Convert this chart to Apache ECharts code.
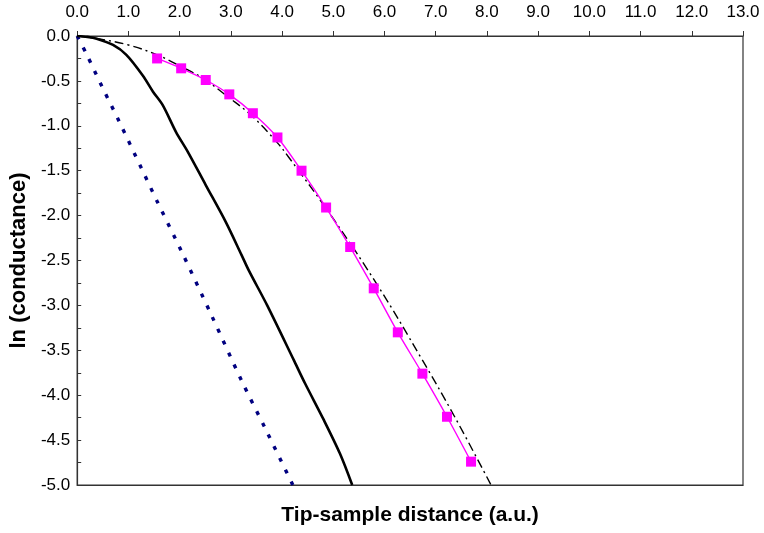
<!DOCTYPE html>
<html>
<head>
<meta charset="utf-8">
<script src="https://cdn.jsdelivr.net/npm/echarts@6/dist/echarts.min.js"></script>
<style>html,body{margin:0;padding:0;background:#fff;}#chart{width:764px;height:533px;}</style>
</head>
<body>
<div id="chart"></div>
<script>
// Blue dotted curve
const blueX = [0, 0.18, 0.49, 0.81, 1.26, 1.56, 2.03, 2.63, 3.22, 3.68, 4.21];
const blueY = [0, -0.20, -0.57, -0.94, -1.48, -1.84, -2.39, -3.12, -3.85, -4.38, -5.0];
// Black solid curve
const blackX = [0, 0.2, 0.38, 0.7, 0.96, 1.28, 1.48, 1.67, 1.93, 2.16, 2.51, 2.9, 3.21, 3.35, 3.71, 4.23, 4.45, 4.81, 5.13, 5.37];
const blackY = [0, -0.01, -0.03, -0.10, -0.21, -0.44, -0.62, -0.77, -1.07, -1.29, -1.66, -2.07, -2.44, -2.61, -3.0, -3.61, -3.87, -4.27, -4.65, -5.0];
// Black dash-dot curve
const ddX = [0, 0.4, 1.0, 1.56, 2.03, 2.45, 2.95, 3.43, 3.91, 4.13, 4.97, 5.88, 6.72, 7.37, 8.08];
const ddY = [0, -0.03, -0.10, -0.21, -0.34, -0.47, -0.68, -0.90, -1.19, -1.35, -2.01, -2.79, -3.59, -4.24, -5.0];
// Magenta squares
const magX = [1.56, 2.03, 2.51, 2.97, 3.43, 3.91, 4.38, 4.86, 5.33, 5.79, 6.26, 6.74, 7.22, 7.69];
const magY = [-0.25, -0.36, -0.49, -0.65, -0.86, -1.13, -1.50, -1.91, -2.35, -2.81, -3.30, -3.76, -4.24, -4.74];

const xTitle = 'Tip-sample distance (a.u.)';
const yTitle = 'ln (conductance)';

const zip = (xs, ys) => xs.map((x, i) => [x, ys[i]]);
const font = 'Liberation Sans, Arial, sans-serif';

const chart = echarts.init(document.getElementById('chart'), null, {renderer: 'canvas'});
chart.setOption({
  animation: false,
  backgroundColor: '#fff',
  grid: {left: 74, right: 21, top: 36, bottom: 48, show: true, borderColor: '#333', borderWidth: 1.2, backgroundColor: 'transparent'},
  xAxis: [{
    type: 'value', position: 'top', min: 0, max: 13, interval: 1,
    axisLine: {show: true, onZero: false, lineStyle: {color: '#333', width: 1.2}},
    axisTick: {show: true, inside: false, length: 5, lineStyle: {color: '#333'}},
    axisLabel: {color: '#000', fontSize: 17, fontFamily: font, margin: 15, formatter: v => v.toFixed(1)},
    splitLine: {show: false}
  }, {
    type: 'value', position: 'bottom', min: 0, max: 13, interval: 1,
    name: xTitle, nameLocation: 'middle', nameGap: 20,
    nameTextStyle: {color: '#000', fontSize: 21, fontWeight: 'bold', fontFamily: font, verticalAlign: 'top'},
    axisLine: {show: true, onZero: false, lineStyle: {color: '#333', width: 1.2}},
    axisTick: {show: false}, axisLabel: {show: false}, splitLine: {show: false}
  }],
  yAxis: {
    type: 'value', min: -5, max: 0, interval: 0.5,
    name: yTitle, nameLocation: 'middle', nameGap: 41, nameRotate: 90,
    nameTextStyle: {color: '#000', fontSize: 22, fontWeight: 'bold', fontFamily: font},
    axisLine: {show: true, onZero: false, lineStyle: {color: '#333', width: 1.2}},
    axisTick: {show: true, inside: true, length: 4, lineStyle: {color: '#333'}},
    minorTick: {show: true, splitNumber: 2, length: 4, lineStyle: {color: '#333'}},
    axisLabel: {color: '#000', fontSize: 17, fontFamily: font, margin: 7, formatter: v => v.toFixed(1)},
    splitLine: {show: false}
  },
  series: [
    {type: 'line', data: zip(blueX, blueY), showSymbol: false, smooth: 0.3, clip: true,
     lineStyle: {color: '#000080', width: 3.4, type: [4, 9], cap: 'butt'}},
    {type: 'line', data: zip(blackX, blackY), showSymbol: false, smooth: 0.3, clip: true,
     lineStyle: {color: '#000', width: 2.6}},
    {type: 'line', data: zip(ddX, ddY), showSymbol: false, smooth: 0.4, clip: true,
     lineStyle: {color: '#000', width: 1.4, type: [9, 4, 2, 4]}},
    {type: 'line', data: zip(magX, magY), symbol: 'rect', symbolSize: 10, smooth: 0.3, clip: true,
     lineStyle: {color: '#ff00ff', width: 1.4}, itemStyle: {color: '#ff00ff'}}
  ]
});
</script>
</body>
</html>
